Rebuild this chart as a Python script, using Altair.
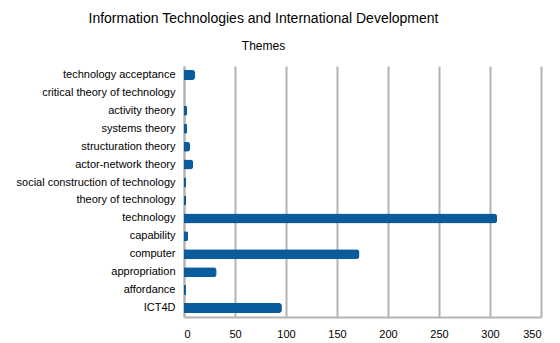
import altair as alt
import pandas as pd

themes = [
    "technology acceptance",
    "critical theory of technology",
    "activity theory",
    "systems theory",
    "structuration theory",
    "actor-network theory",
    "social construction of technology",
    "theory of technology",
    "technology",
    "capability",
    "computer",
    "appropriation",
    "affordance",
    "ICT4D",
]
counts = [11, 0, 3, 3, 6, 9, 2, 2, 307, 4, 172, 32, 2, 96]
x_ticks = [0, 50, 100, 150, 200, 250, 300, 350]

df = pd.DataFrame({"theme": themes, "count": counts})

chart = (
    alt.Chart(df, title=alt.Title(
        "Information Technologies and International Development",
        subtitle="Themes",
        fontSize=14, fontWeight="normal", font="Liberation Sans", color="#000000",
        subtitleFontSize=12, subtitleFont="Liberation Sans", subtitleColor="#000000",
        subtitlePadding=15, anchor="middle", frame="group", dx=-99, offset=14,
    ))
    .mark_bar(color="#0b5c9c", size=10, cornerRadiusEnd=3)
    .encode(
        x=alt.X("count:Q", scale=alt.Scale(domain=[0, 350], nice=False),
                axis=alt.Axis(values=x_ticks, title=None, grid=True, gridColor="#b3b3b3",
                              gridWidth=2, ticks=False, domainColor="#b3b3b3", domainWidth=2,
                              labelFontSize=11, labelFont="Liberation Sans", labelColor="#000000",
                              labelPadding=11)),
        y=alt.Y("theme:N", sort=themes,
                axis=alt.Axis(title=None, ticks=False, domainColor="#b3b3b3", domainWidth=2,
                              labelFontSize=11, labelFont="Liberation Sans", labelColor="#000000",
                              labelPadding=9, labelLimit=200)),
    )
    .properties(width=357, height=251, padding={"left": 184, "top": 66, "right": 19, "bottom": 26},
                autosize=alt.AutoSizeParams(type="none"))
    .configure_view(stroke=None)
)

chart.save("out.html", embed_options={"renderer": "svg", "actions": False})
